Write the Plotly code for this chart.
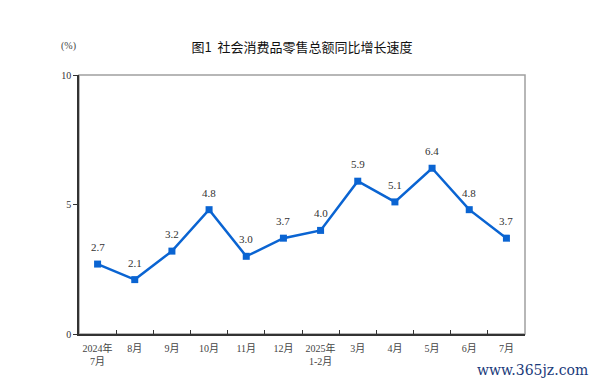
import plotly.graph_objects as go

categories = ["2024年<br>7月", "8月", "9月", "10月", "11月", "12月", "2025年<br>1-2月",
              "3月", "4月", "5月", "6月", "7月"]
values = [2.7, 2.1, 3.2, 4.8, 3.0, 3.7, 4.0, 5.9, 5.1, 6.4, 4.8, 3.7]
labels = [f"{v:.1f}" for v in values]
y_ticks = [0, 5, 10]

serif = "Liberation Serif, Noto Sans CJK SC, serif"

fig = go.Figure()
fig.add_trace(go.Scatter(
    x=categories, y=values, mode="lines+markers",
    line=dict(color="#0a64d2", width=2.5),
    marker=dict(symbol="square", size=7, color="#0a64d2"),
    cliponaxis=False, hoverinfo="skip",
))

fig.add_shape(type="rect", xref="paper", yref="paper", x0=0, y0=0, x1=1, y1=1,
              line=dict(color="#a0a0a0", width=1.5), layer="below")

annotations = [
    dict(x=c, y=v, text=t, xref="x", yref="y", showarrow=False, yanchor="bottom",
         yshift=9, font=dict(family=serif, size=11, color="#333333"))
    for c, v, t in zip(categories, values, labels)
]
annotations += [
    dict(text="(%)", xref="paper", yref="paper", x=-0.002, y=1 + 29 / 259,
         xanchor="right", yanchor="middle", showarrow=False,
         font=dict(family=serif, size=10, color="#444444")),
    dict(text="www.365jz.com", xref="paper", yref="paper", x=1.145, y=-(370 - 334) / 259,
         xanchor="right", yanchor="middle", showarrow=False,
         font=dict(family="DejaVu Serif", size=14, color="#1a3a7a")),
]

fig.update_layout(
    width=600, height=386,
    margin=dict(l=71, r=83, t=67, b=60, autoexpand=False),
    paper_bgcolor="white", plot_bgcolor="white",
    showlegend=False,
    font=dict(family=serif, size=10, color="#333333"),
    title=dict(text="图1  社会消费品零售总额同比增长速度", x=(302 - 8) / 600, xanchor="center",
               y=1 - 39 / 386, yanchor="middle",
               font=dict(family="Noto Sans CJK SC", size=13, color="#111111")),
    xaxis=dict(type="category", tickson="boundaries", ticks="inside", ticklen=4,
               tickcolor="#333333", showline=True, linecolor="#333333", linewidth=1.5,
               showgrid=False, tickfont=dict(family=serif, size=10, color="#444444"),
               tickangle=0, automargin=False, ticklabelstandoff=4, range=[-0.5, 11.5]),
    yaxis=dict(range=[0, 10], tickvals=y_ticks, ticks="outside", ticklen=4,
               tickcolor="#333333", showline=True, linecolor="#333333", linewidth=1.5,
               showgrid=False, zeroline=False, automargin=False,
               tickfont=dict(family=serif, size=10, color="#333333")),
    annotations=annotations,
)

fig.write_html("out.html")
